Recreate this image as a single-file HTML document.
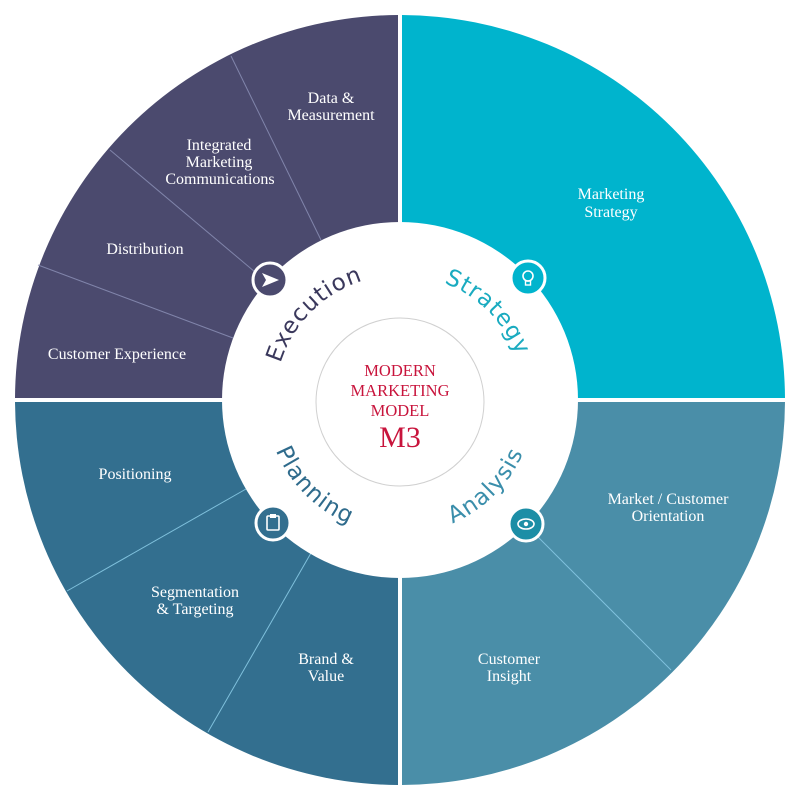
<!DOCTYPE html>
<html><head><meta charset="utf-8"><style>
html,body{margin:0;padding:0;background:#fff;}
svg{display:block}
.lbl{font-family:"Liberation Serif",serif;font-size:16px;fill:#fff;text-anchor:middle}
.arc{font-family:"DejaVu Sans","Liberation Sans",sans-serif;font-size:23px;letter-spacing:1px}
</style></head><body>
<svg width="800" height="800" viewBox="0 0 800 800">
<defs>
<clipPath id="tl"><rect x="0" y="0" width="398" height="398"/></clipPath>
<clipPath id="tr"><rect x="402" y="0" width="398" height="398"/></clipPath>
<clipPath id="bl"><rect x="0" y="402" width="398" height="398"/></clipPath>
<clipPath id="br"><rect x="402" y="402" width="398" height="398"/></clipPath>
<path id="pE" d="M275,400 A125,125 0 0 1 400,275"/>
<path id="pS" d="M400,275 A125,125 0 0 1 525,400"/>
<path id="pP" d="M266,400 A134,134 0 0 0 400,534"/>
<path id="pA" d="M400,534 A134,134 0 0 0 534,400"/>
</defs>
<circle cx="400" cy="400" r="385" fill="#4b4a6e" clip-path="url(#tl)"/>
<circle cx="400" cy="400" r="385" fill="#00b4cd" clip-path="url(#tr)"/>
<circle cx="400" cy="400" r="385" fill="#336f8f" clip-path="url(#bl)"/>
<circle cx="400" cy="400" r="385" fill="#4a8ea8" clip-path="url(#br)"/>
<g stroke="#8a8fb5" stroke-width="1" opacity="0.85">
<line x1="321" y1="240" x2="231" y2="56"/>
<line x1="255" y1="272" x2="110" y2="150"/>
<line x1="233" y1="338" x2="38" y2="265"/>
</g>
<g stroke="#7fc0dc" stroke-width="1">
<line x1="246" y1="489" x2="67" y2="591"/>
<line x1="311" y1="553" x2="208" y2="732"/>
<line x1="538" y1="537" x2="671" y2="670"/>
</g>
<circle cx="400" cy="400" r="178" fill="#fff"/>
<circle cx="400" cy="402" r="84" fill="#fff" stroke="#d0d0d0" stroke-width="1"/>
<g font-family="'Liberation Serif',serif" fill="#c8143c" text-anchor="middle">
<text x="400" y="376" font-size="16.5">MODERN</text>
<text x="400" y="396" font-size="16.5">MARKETING</text>
<text x="400" y="416" font-size="16.5">MODEL</text>
<text x="400" y="447" font-size="30">M3</text>
</g>
<text class="arc" fill="#3a385c"><textPath href="#pE" startOffset="50%" text-anchor="middle">Execution</textPath></text>
<text class="arc" fill="#1aabc0"><textPath href="#pS" startOffset="50%" text-anchor="middle">Strategy</textPath></text>
<text class="arc" fill="#2f6b8c"><textPath href="#pP" startOffset="50%" text-anchor="middle">Planning</textPath></text>
<text class="arc" fill="#3a8eab"><textPath href="#pA" startOffset="50%" text-anchor="middle">Analysis</textPath></text>
<!-- icons -->
<circle cx="270" cy="280" r="17" fill="#4b4a6e" stroke="#fff" stroke-width="3"/>
<path d="M262,273 L279,280 L262,287 L266,280 Z" fill="#fff"/>
<circle cx="528" cy="278" r="17" fill="#00b4cd" stroke="#fff" stroke-width="3"/>
<circle cx="528" cy="276" r="5" fill="none" stroke="#fff" stroke-width="1.6"/>
<rect x="525.5" y="281" width="5" height="4" fill="none" stroke="#fff" stroke-width="1.4"/>
<circle cx="273" cy="523" r="17" fill="#336f8f" stroke="#fff" stroke-width="3"/>
<rect x="267" y="516" width="12" height="14" rx="1" fill="none" stroke="#fff" stroke-width="1.6"/>
<rect x="270" y="514" width="6" height="4" fill="#fff"/>
<circle cx="526" cy="524" r="17" fill="#1c8ea6" stroke="#fff" stroke-width="3"/>
<ellipse cx="526" cy="524" rx="8" ry="5" fill="none" stroke="#fff" stroke-width="1.6"/>
<circle cx="526" cy="524" r="2.2" fill="#fff"/>
<!-- labels -->
<text class="lbl" x="331" y="103">Data &amp;</text>
<text class="lbl" x="331" y="120">Measurement</text>
<text class="lbl" x="219" y="150">Integrated</text>
<text class="lbl" x="219" y="167">Marketing</text>
<text class="lbl" x="220" y="184">Communications</text>
<text class="lbl" x="145" y="254">Distribution</text>
<text class="lbl" x="117" y="359">Customer Experience</text>
<text class="lbl" x="611" y="199">Marketing</text>
<text class="lbl" x="611" y="217">Strategy</text>
<text class="lbl" x="135" y="479">Positioning</text>
<text class="lbl" x="195" y="597">Segmentation</text>
<text class="lbl" x="195" y="614">&amp; Targeting</text>
<text class="lbl" x="326" y="664">Brand &amp;</text>
<text class="lbl" x="326" y="681">Value</text>
<text class="lbl" x="668" y="504">Market / Customer</text>
<text class="lbl" x="668" y="521">Orientation</text>
<text class="lbl" x="509" y="664">Customer</text>
<text class="lbl" x="509" y="681">Insight</text>
</svg>
</body></html>
